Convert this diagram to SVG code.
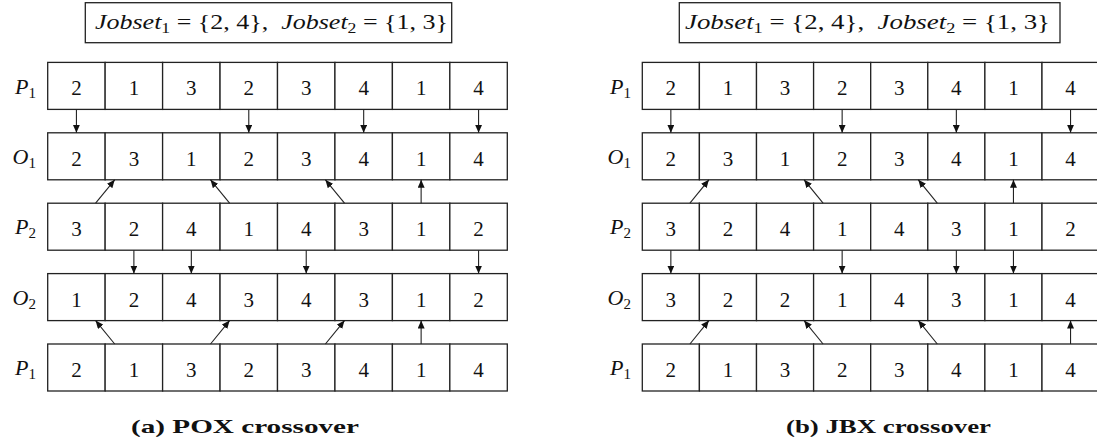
<svg xmlns="http://www.w3.org/2000/svg" width="1097" height="441" viewBox="0 0 1097 441">
<style>
text{font-family:"Liberation Serif","Times New Roman",serif;fill:#111}
.c{fill:#fff;stroke:#222;stroke-width:1.3}
.d{font-size:21px;text-anchor:middle}
.lab{font-size:22px;text-anchor:end}
.hd{font-size:22px}
.cap{font-size:19px;font-weight:bold}
.a{stroke:#222;stroke-width:1.1;fill:none;marker-end:url(#ah)}
</style>
<defs>
<marker id="ah" markerUnits="userSpaceOnUse" markerWidth="9" markerHeight="7" refX="8" refY="3.5" orient="auto"><path d="M0,0 L8,3.5 L0,7 z" fill="#111"/></marker>
<g id="rowL"><rect class="c" x="47.7" y="0" width="57.45" height="47"/><rect class="c" x="105.15" y="0" width="57.45" height="47"/><rect class="c" x="162.6" y="0" width="57.45" height="47"/><rect class="c" x="220.05" y="0" width="57.45" height="47"/><rect class="c" x="277.5" y="0" width="57.45" height="47"/><rect class="c" x="334.95" y="0" width="57.45" height="47"/><rect class="c" x="392.4" y="0" width="57.45" height="47"/><rect class="c" x="449.85" y="0" width="57.45" height="47"/></g>
<g id="rowR"><rect class="c" x="642.3" y="0" width="57.1" height="47"/><rect class="c" x="699.4" y="0" width="57.1" height="47"/><rect class="c" x="756.5" y="0" width="57.1" height="47"/><rect class="c" x="813.6" y="0" width="57.1" height="47"/><rect class="c" x="870.7" y="0" width="57.1" height="47"/><rect class="c" x="927.8" y="0" width="57.1" height="47"/><rect class="c" x="984.9" y="0" width="57.1" height="47"/><rect class="c" x="1042" y="0" width="57.1" height="47"/></g>
</defs>

<g id="headerA"><rect x="85.3" y="2.7" width="366.4" height="40" fill="#fff" stroke="#222" stroke-width="1.3"/>
<text class="hd" x="95" y="29" textLength="353" lengthAdjust="spacingAndGlyphs" xml:space="preserve"><tspan font-style="italic">Jobset</tspan><tspan font-size="15" dy="4">1</tspan><tspan dy="-4"> = {2, 4},  </tspan><tspan font-style="italic">Jobset</tspan><tspan font-size="15" dy="4">2</tspan><tspan dy="-4"> = {1, 3}</tspan></text></g>
<g id="headerB"><rect x="679.3" y="2.7" width="380.7" height="40" fill="#fff" stroke="#222" stroke-width="1.3"/>
<text class="hd" x="685" y="29" textLength="365" lengthAdjust="spacingAndGlyphs" xml:space="preserve"><tspan font-style="italic">Jobset</tspan><tspan font-size="15" dy="4">1</tspan><tspan dy="-4"> = {2, 4},  </tspan><tspan font-style="italic">Jobset</tspan><tspan font-size="15" dy="4">2</tspan><tspan dy="-4"> = {1, 3}</tspan></text></g>

<g id="A-P1-top"><use href="#rowL" y="62.4"/><text class="lab" x="36" y="93.5"><tspan font-style="italic">P</tspan><tspan font-size="15" dy="4">1</tspan></text>
<g class="d"><text x="76.43" y="95.4">2</text><text x="133.88" y="95.4">1</text><text x="191.33" y="95.4">3</text><text x="248.78" y="95.4">2</text><text x="306.23" y="95.4">3</text><text x="363.68" y="95.4">4</text><text x="421.13" y="95.4">1</text><text x="478.58" y="95.4">4</text></g></g>
<g id="A-O1"><use href="#rowL" y="132.8"/><text class="lab" x="36" y="163.9"><tspan font-style="italic">O</tspan><tspan font-size="15" dy="4">1</tspan></text>
<g class="d"><text x="76.43" y="165.8">2</text><text x="133.88" y="165.8">3</text><text x="191.33" y="165.8">1</text><text x="248.78" y="165.8">2</text><text x="306.23" y="165.8">3</text><text x="363.68" y="165.8">4</text><text x="421.13" y="165.8">1</text><text x="478.58" y="165.8">4</text></g></g>
<g id="A-P2"><use href="#rowL" y="203.2"/><text class="lab" x="36" y="234.3"><tspan font-style="italic">P</tspan><tspan font-size="15" dy="4">2</tspan></text>
<g class="d"><text x="76.43" y="236.2">3</text><text x="133.88" y="236.2">2</text><text x="191.33" y="236.2">4</text><text x="248.78" y="236.2">1</text><text x="306.23" y="236.2">4</text><text x="363.68" y="236.2">3</text><text x="421.13" y="236.2">1</text><text x="478.58" y="236.2">2</text></g></g>
<g id="A-O2"><use href="#rowL" y="273.6"/><text class="lab" x="36" y="304.7"><tspan font-style="italic">O</tspan><tspan font-size="15" dy="4">2</tspan></text>
<g class="d"><text x="76.43" y="306.6">1</text><text x="133.88" y="306.6">2</text><text x="191.33" y="306.6">4</text><text x="248.78" y="306.6">3</text><text x="306.23" y="306.6">4</text><text x="363.68" y="306.6">3</text><text x="421.13" y="306.6">1</text><text x="478.58" y="306.6">2</text></g></g>
<g id="A-P1-bottom"><use href="#rowL" y="344"/><text class="lab" x="36" y="375.1"><tspan font-style="italic">P</tspan><tspan font-size="15" dy="4">1</tspan></text>
<g class="d"><text x="76.43" y="377">2</text><text x="133.88" y="377">1</text><text x="191.33" y="377">3</text><text x="248.78" y="377">2</text><text x="306.23" y="377">3</text><text x="363.68" y="377">4</text><text x="421.13" y="377">1</text><text x="478.58" y="377">4</text></g></g>

<g id="B-P1-top"><use href="#rowR" y="62.4"/><text class="lab" x="631" y="93.5"><tspan font-style="italic">P</tspan><tspan font-size="15" dy="4">1</tspan></text>
<g class="d"><text x="670.85" y="95.4">2</text><text x="727.95" y="95.4">1</text><text x="785.05" y="95.4">3</text><text x="842.15" y="95.4">2</text><text x="899.25" y="95.4">3</text><text x="956.35" y="95.4">4</text><text x="1013.45" y="95.4">1</text><text x="1070.55" y="95.4">4</text></g></g>
<g id="B-O1"><use href="#rowR" y="132.8"/><text class="lab" x="631" y="163.9"><tspan font-style="italic">O</tspan><tspan font-size="15" dy="4">1</tspan></text>
<g class="d"><text x="670.85" y="165.8">2</text><text x="727.95" y="165.8">3</text><text x="785.05" y="165.8">1</text><text x="842.15" y="165.8">2</text><text x="899.25" y="165.8">3</text><text x="956.35" y="165.8">4</text><text x="1013.45" y="165.8">1</text><text x="1070.55" y="165.8">4</text></g></g>
<g id="B-P2"><use href="#rowR" y="203.2"/><text class="lab" x="631" y="234.3"><tspan font-style="italic">P</tspan><tspan font-size="15" dy="4">2</tspan></text>
<g class="d"><text x="670.85" y="236.2">3</text><text x="727.95" y="236.2">2</text><text x="785.05" y="236.2">4</text><text x="842.15" y="236.2">1</text><text x="899.25" y="236.2">4</text><text x="956.35" y="236.2">3</text><text x="1013.45" y="236.2">1</text><text x="1070.55" y="236.2">2</text></g></g>
<g id="B-O2"><use href="#rowR" y="273.6"/><text class="lab" x="631" y="304.7"><tspan font-style="italic">O</tspan><tspan font-size="15" dy="4">2</tspan></text>
<g class="d"><text x="670.85" y="306.6">3</text><text x="727.95" y="306.6">2</text><text x="785.05" y="306.6">2</text><text x="842.15" y="306.6">1</text><text x="899.25" y="306.6">4</text><text x="956.35" y="306.6">3</text><text x="1013.45" y="306.6">1</text><text x="1070.55" y="306.6">4</text></g></g>
<g id="B-P1-bottom"><use href="#rowR" y="344"/><text class="lab" x="631" y="375.1"><tspan font-style="italic">P</tspan><tspan font-size="15" dy="4">1</tspan></text>
<g class="d"><text x="670.85" y="377">2</text><text x="727.95" y="377">1</text><text x="785.05" y="377">3</text><text x="842.15" y="377">2</text><text x="899.25" y="377">3</text><text x="956.35" y="377">4</text><text x="1013.45" y="377">1</text><text x="1070.55" y="377">4</text></g></g>

<g id="connectors">
<line class="a" x1="76.43" y1="109.4" x2="76.43" y2="132.8"/>
<line class="a" x1="248.78" y1="109.4" x2="248.78" y2="132.8"/>
<line class="a" x1="363.68" y1="109.4" x2="363.68" y2="132.8"/>
<line class="a" x1="478.58" y1="109.4" x2="478.58" y2="132.8"/>
<line class="a" x1="95.61" y1="203.2" x2="114.7" y2="179.8"/>
<line class="a" x1="229.6" y1="203.2" x2="210.51" y2="179.8"/>
<line class="a" x1="344.5" y1="203.2" x2="325.41" y2="179.8"/>
<line class="a" x1="421.13" y1="203.2" x2="421.13" y2="179.8"/>
<line class="a" x1="133.88" y1="250.2" x2="133.88" y2="273.6"/>
<line class="a" x1="191.33" y1="250.2" x2="191.33" y2="273.6"/>
<line class="a" x1="306.23" y1="250.2" x2="306.23" y2="273.6"/>
<line class="a" x1="478.58" y1="250.2" x2="478.58" y2="273.6"/>
<line class="a" x1="114.7" y1="344" x2="95.61" y2="320.6"/>
<line class="a" x1="210.51" y1="344" x2="229.6" y2="320.6"/>
<line class="a" x1="325.41" y1="344" x2="344.5" y2="320.6"/>
<line class="a" x1="421.13" y1="344" x2="421.13" y2="320.6"/>

<line class="a" x1="670.85" y1="109.4" x2="670.85" y2="132.8"/>
<line class="a" x1="842.15" y1="109.4" x2="842.15" y2="132.8"/>
<line class="a" x1="956.35" y1="109.4" x2="956.35" y2="132.8"/>
<line class="a" x1="1070.55" y1="109.4" x2="1070.55" y2="132.8"/>
<line class="a" x1="689.91" y1="203.2" x2="708.89" y2="179.8"/>
<line class="a" x1="823.09" y1="203.2" x2="804.11" y2="179.8"/>
<line class="a" x1="937.29" y1="203.2" x2="918.31" y2="179.8"/>
<line class="a" x1="1013.45" y1="203.2" x2="1013.45" y2="179.8"/>
<line class="a" x1="670.85" y1="250.2" x2="670.85" y2="273.6"/>
<line class="a" x1="842.15" y1="250.2" x2="842.15" y2="273.6"/>
<line class="a" x1="956.35" y1="250.2" x2="956.35" y2="273.6"/>
<line class="a" x1="1013.45" y1="250.2" x2="1013.45" y2="273.6"/>
<line class="a" x1="689.91" y1="344" x2="708.89" y2="320.6"/>
<line class="a" x1="823.09" y1="344" x2="804.11" y2="320.6"/>
<line class="a" x1="937.29" y1="344" x2="918.31" y2="320.6"/>
<line class="a" x1="1070.55" y1="344" x2="1070.55" y2="320.6"/>
</g>

<text class="cap" x="131" y="433" textLength="228" lengthAdjust="spacingAndGlyphs">(a) POX crossover</text>
<text class="cap" x="786" y="433" textLength="205" lengthAdjust="spacingAndGlyphs">(b) JBX crossover</text>
</svg>
